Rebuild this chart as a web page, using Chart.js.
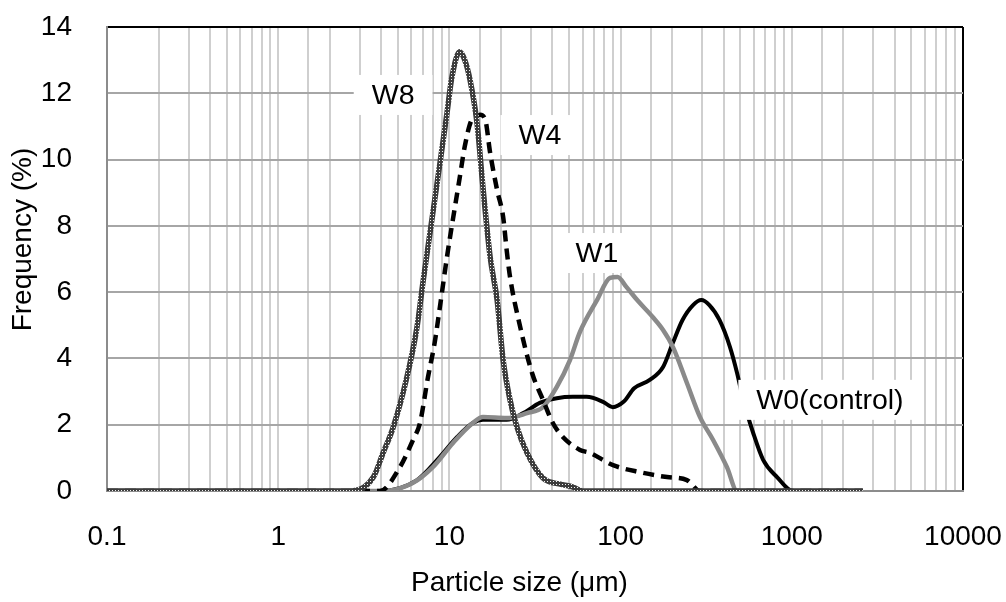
<!DOCTYPE html>
<html>
<head>
<meta charset="utf-8">
<script src="https://cdn.jsdelivr.net/npm/chart.js@4.4.1/dist/chart.umd.min.js"></script>
<style>
  body { margin: 0; background: #fff; }
  #wrap { width: 1006px; height: 602px; }
</style>
</head>
<body>
<div id="wrap"><canvas id="psd" width="1006" height="602"></canvas></div>
<script>
// Particle size distribution
const w8Size = [0.1, 2.7, 3.6, 4.1, 4.7, 5.65, 6.47, 7.01, 7.71, 8.81, 9.68, 10.35, 11.5, 12.3, 13.2, 14.5, 15.7, 17.3, 19.0, 20.6, 22.6, 24.8, 28.4, 35.2, 45, 52.7, 60, 2600];
const w8Freq = [0, 0, 0.42, 1.15, 1.93, 3.44, 4.95, 6.3, 7.8, 9.9, 11.4, 12.5, 13.25, 13.0, 12.4, 11.1, 9.17, 7.06, 5.76, 3.95, 2.75, 1.93, 1.15, 0.39, 0.2, 0.12, 0, 0];

const w4Size = [0.1, 3.93, 5.14, 6.13, 6.73, 7.5, 8.2, 8.8, 9.68, 11.5, 12.3, 13.5, 15.1, 16.2, 17.3, 19.0, 20.6, 21.6, 22.6, 25.6, 30.4, 35.2, 40.2, 46, 57.9, 66.2, 90.3, 129, 187, 244, 291, 2600];
const w4Freq = [0, 0, 0.72, 1.54, 2.05, 3.44, 4.47, 5.55, 7.06, 9.47, 10.4, 11.2, 11.35, 11.2, 10.2, 9.08, 8.27, 7.27, 6.46, 5.07, 3.56, 2.75, 2.05, 1.63, 1.24, 1.15, 0.78, 0.57, 0.42, 0.33, 0, 0];

const w1Size = [0.1, 4.1, 6.1, 8.0, 10.5, 13.7, 15.7, 21.6, 28.4, 35.2, 42.4, 50.6, 57.9, 72.8, 86.7, 96, 108, 125, 154, 177, 202, 244, 291, 347, 418, 479, 2600];
const w1Freq = [0, 0, 0.24, 0.72, 1.45, 2.05, 2.23, 2.2, 2.35, 2.53, 3.14, 3.95, 4.8, 5.76, 6.43, 6.46, 6.16, 5.76, 5.25, 4.86, 4.35, 3.26, 2.23, 1.54, 0.72, 0, 0];

const w0Size = [0.1, 3.93, 6.47, 8.8, 11.1, 13.7, 15.7, 21.6, 27, 33.7, 42.4, 52.7, 63.3, 79, 90, 104, 120, 148, 177, 202, 230, 265, 296, 330, 378, 435, 479, 520, 595, 680, 820, 1016, 2600];
const w0Freq = [0, 0, 0.33, 1.03, 1.63, 2.05, 2.15, 2.15, 2.35, 2.66, 2.8, 2.84, 2.84, 2.69, 2.53, 2.69, 3.1, 3.35, 3.74, 4.47, 5.16, 5.61, 5.76, 5.61, 5.16, 4.35, 3.56, 2.75, 1.75, 0.94, 0.42, 0, 0];

// Series labels and where they sit (data coordinates)
const seriesNames = ['W8', 'W4', 'W1', 'W0(control)'];
const labelSize = [4.69, 33.8, 72.8, 1671];
const labelFreq = [11.95, 10.74, 7.18, 2.75];

const toPoints = (xs, ys) => xs.map((x, i) => ({ x: x, y: ys[i] }));

const canvas = document.getElementById('psd');
const ctx = canvas.getContext('2d');

// checkered look of the W8 line
const tile = document.createElement('canvas');
tile.width = 3;
tile.height = 3;
const tctx = tile.getContext('2d');
tctx.fillStyle = '#3c3c3c';
tctx.fillRect(0, 0, 3, 3);
tctx.fillStyle = '#f2f2f2';
tctx.fillRect(1, 1, 1, 1);
const w8Pattern = ctx.createPattern(tile, 'repeat');

const FONT = "'Liberation Sans', Arial, sans-serif";

// white boxes with the series names
const seriesLabels = {
    id: 'seriesLabels',
    afterDatasetsDraw(chart) {
        const c = chart.ctx;
        const xs = chart.scales.x;
        const ys = chart.scales.y;
        c.save();
        c.font = '28.5px ' + FONT;
        c.textAlign = 'center';
        c.textBaseline = 'middle';
        for (let i = 0; i < seriesNames.length; i++) {
            const px = xs.getPixelForValue(labelSize[i]);
            const py = ys.getPixelForValue(labelFreq[i]);
            const w = c.measureText(seriesNames[i]).width + 36;
            const h = 40;
            c.fillStyle = '#ffffff';
            c.fillRect(px - w / 2, py - h / 2, w, h);
            c.fillStyle = '#000000';
            c.fillText(seriesNames[i], px, py + 1);
        }
        c.restore();
    }
};

new Chart(ctx, {
    type: 'line',
    data: {
        datasets: [
            { label: 'W8', data: toPoints(w8Size, w8Freq), borderColor: w8Pattern, borderWidth: 5.5 },
            { label: 'W4', data: toPoints(w4Size, w4Freq), borderColor: '#000000', borderWidth: 4.5, borderDash: [11, 7] },
            { label: 'W1', data: toPoints(w1Size, w1Freq), borderColor: '#8a8a8a', borderWidth: 4.5 },
            { label: 'W0(control)', data: toPoints(w0Size, w0Freq), borderColor: '#000000', borderWidth: 4 }
        ]
    },
    options: {
        responsive: false,
        animation: false,
        devicePixelRatio: 1,
        layout: { padding: { top: 27, right: 43, left: 0, bottom: 0 } },
        elements: {
            point: { radius: 0, hoverRadius: 0 },
            line: { cubicInterpolationMode: 'monotone', fill: false }
        },
        plugins: {
            legend: { display: false },
            tooltip: { enabled: false }
        },
        scales: {
            x: {
                type: 'logarithmic',
                min: 0.1,
                max: 10000,
                // fixed axis box, no extra side padding from the tick labels
                afterFit: (scale) => {
                    scale.height = 111;
                    scale.paddingLeft = 0;
                    scale.paddingRight = 0;
                },
                grid: {
                    drawTicks: false,
                    lineWidth: 2,
                    color: (c) => (c.tick && c.tick.value === 10000 ? '#000000' : '#cfcfcf')
                },
                border: { color: '#8c8c8c', width: 2 },
                ticks: {
                    autoSkip: false,
                    maxRotation: 0,
                    padding: 29,
                    color: '#000000',
                    font: { family: FONT, size: 28 },
                    callback: (v) => {
                        const l = Math.log10(v);
                        return Math.abs(l - Math.round(l)) < 1e-6 ? String(v) : '';
                    }
                },
                title: {
                    display: true,
                    // trailing spaces nudge the title a little left, as in the original
                    text: 'Particle size (μm)    ',
                    color: '#000000',
                    font: { family: FONT, size: 28 },
                    padding: { top: 0, bottom: 2 }
                }
            },
            y: {
                min: 0,
                max: 14,
                afterFit: (scale) => {
                    scale.width = 107;
                    scale.paddingTop = 0;
                    scale.paddingBottom = 0;
                },
                grid: {
                    drawTicks: false,
                    lineWidth: 2,
                    color: (c) => (c.tick && c.tick.value === 14 ? '#000000' : '#a6a6a6')
                },
                border: { color: '#8c8c8c', width: 2 },
                ticks: {
                    stepSize: 2,
                    padding: 35,
                    color: '#000000',
                    font: { family: FONT, size: 28 }
                },
                title: {
                    display: true,
                    // leading spaces lift the rotated title a bit
                    text: '     Frequency (%)',
                    color: '#000000',
                    font: { family: FONT, size: 28 },
                    padding: { top: 6, bottom: 0 }
                }
            }
        }
    },
    plugins: [seriesLabels]
});
</script>
</body>
</html>
